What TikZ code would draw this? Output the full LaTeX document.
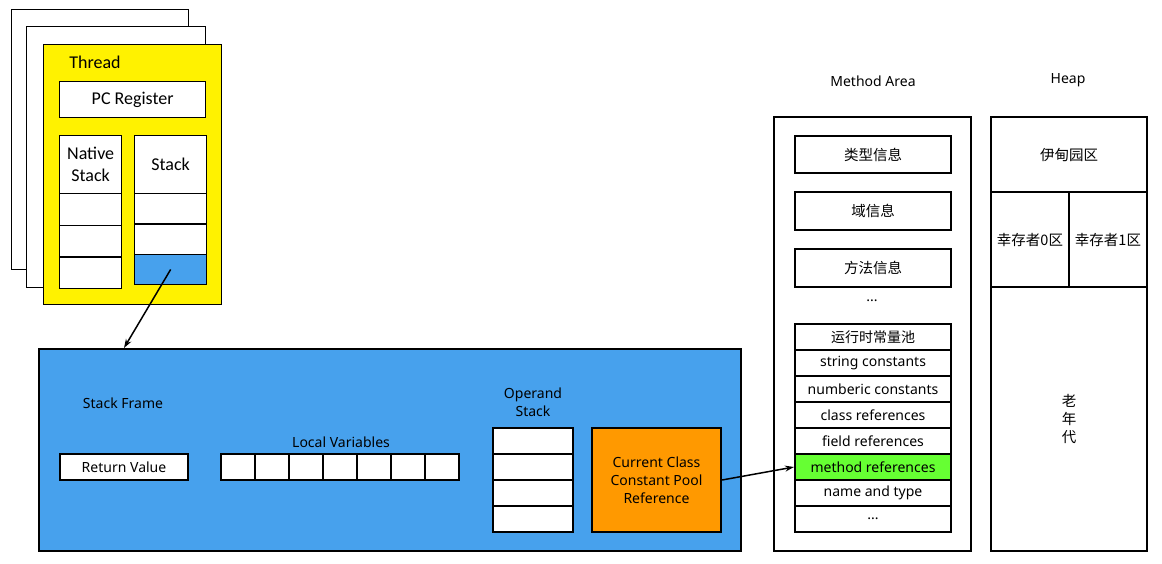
\documentclass[tikz,border=0pt]{standalone}
\usepackage{fontspec}
\setmainfont{Noto Sans}
\newfontfamily\cjk{Noto Sans CJK SC}
\newfontfamily\calib{Carlito}
\usetikzlibrary{positioning,arrows.meta}

\begin{document}
\begin{tikzpicture}[x=1pt,y=-1pt,
page/.style={draw, fill=white, line width=1pt},
thread/.style={draw, fill=yellow, line width=1.3pt, inner sep=0pt, anchor=north west},
tcell/.style={draw, fill=white, line width=1.3pt, inner sep=0pt, anchor=north west, font=\calib\fontsize{18}{22}\selectfont},
cell/.style={draw, fill=white, line width=2pt, inner sep=0pt, anchor=north west, font=\fontsize{14}{18}\selectfont},
zh/.style={font=\cjk\fontsize{14.5}{18}\selectfont},
frame/.style={draw, fill=stackblue, line width=2pt, inner sep=0pt, anchor=north west},
lbl/.style={font=\fontsize{14}{18}\selectfont, align=center},
ptr/.style={-{Stealth[length=9pt,width=6pt]}, line width=1.5pt}
]
\definecolor{stackblue}{RGB}{71,161,237}
\definecolor{ccporange}{RGB}{255,153,0}
\definecolor{refgreen}{RGB}{102,255,51}

\useasboundingbox (0,0) rectangle (1162,563);

\def\ch{26}
\def\cw{34}
\def\mdots{...}

%%% Thread
\draw[page] (11,9) rectangle (188,269);
\draw[page] (26,26) rectangle (205,287);
\node[thread, minimum width=178, minimum height=260] (thread) at (43,44) {};
\node[font=\calib\fontsize{18}{22}\selectfont] (tname) at (95,62) {Thread};
\node[tcell, minimum width=146, minimum height=36] (pc) at (59,81) {PC Register};

\node[tcell, minimum width=62, minimum height=58, align=center] (nhead) at (59,135) {Native\\Stack};
\node[tcell, minimum width=72, minimum height=58] (shead) at (134,135) {Stack};
\foreach \i in {1,2,3}{
	\node[tcell, minimum width=62, minimum height=31.67] (ncell\i) at (59,{193+31.67*(\i-1)}) {};
	\node[tcell, minimum width=72, minimum height=30.33] (scell\i) at (134,{193+30.33*(\i-1)}) {};
}
\node[tcell, fill=stackblue, minimum width=72, minimum height=30.33] at (scell3.north west) {};

%%% Stack Frame
\node[frame, minimum width=702, minimum height=202] (frame) at (38,348) {};
\node[lbl] (sfname) at (123,403) {Stack Frame};
\node[cell, minimum width=128, minimum height=\ch] (retval) at (59,453) {Return Value};

\foreach \i in {1,...,7}
	\node[cell, minimum width=\cw, minimum height=\ch] (lv\i) at ({220+\cw*(\i-1)},453) {};
\node[lbl] (lvname) at (341,442) {Local Variables};

\foreach \i in {1,...,4}
	\node[cell, minimum width=80, minimum height=\ch] (op\i) at (492,{427+\ch*(\i-1)}) {};
\node[lbl] (opname) at (533,402) {Operand\\Stack};

\node[cell, fill=ccporange, minimum width=129, minimum height=104, align=center] (ccp) at (591,427) {Current Class\\Constant Pool\\Reference};

%%% Method Area
\node[lbl] (maname) at (873,81) {Method Area};
\node[cell, minimum width=197, minimum height=434] (ma) at (773,116) {};
\node[cell, zh, minimum width=156, minimum height=37] (typeinfo) at (794,135) {类型信息};
\node[cell, zh, minimum width=156, minimum height=38] (fieldinfo) at (794,191) {域信息};
\node[cell, zh, minimum width=156, minimum height=38] (methinfo) at (794,248) {方法信息};
\node[lbl] (madots) at (872,301) {\mdots};

\foreach \i/\txt in {
	1/{\cjk 运行时常量池},
	2/string constants,
	3/numberic constants,
	4/class references,
	5/field references,
	6/method references,
	7/name and type,
	8/\mdots
	}{
	\node[cell, minimum width=156, minimum height=\ch] (pool\i) at (794,{323+\ch*(\i-1)}) {\txt};
}
\node[cell, fill=refgreen, minimum width=156, minimum height=\ch] (mref) at (pool6.north west) {method references};

%%% Heap
\node[lbl] (heapname) at (1068,80) {Heap};
\node[cell, zh, minimum width=156, minimum height=75] (eden) at (990,116) {伊甸园区};
\node[cell, zh, minimum width=78, minimum height=95] (surv0) at (990,191) {幸存者0区};
\node[cell, zh, minimum width=78, minimum height=95] (surv1) at (1068,191) {幸存者1区};
\node[cell, zh, minimum width=156, minimum height=264, align=center] (old) at (990,286) {老\\年\\代};

%%% Pointers
\draw[ptr] (scell3.center) -- (frame.north -| retval.north);
\draw[ptr] (ccp.east) -- (mref.west);

\end{tikzpicture}
\end{document}
